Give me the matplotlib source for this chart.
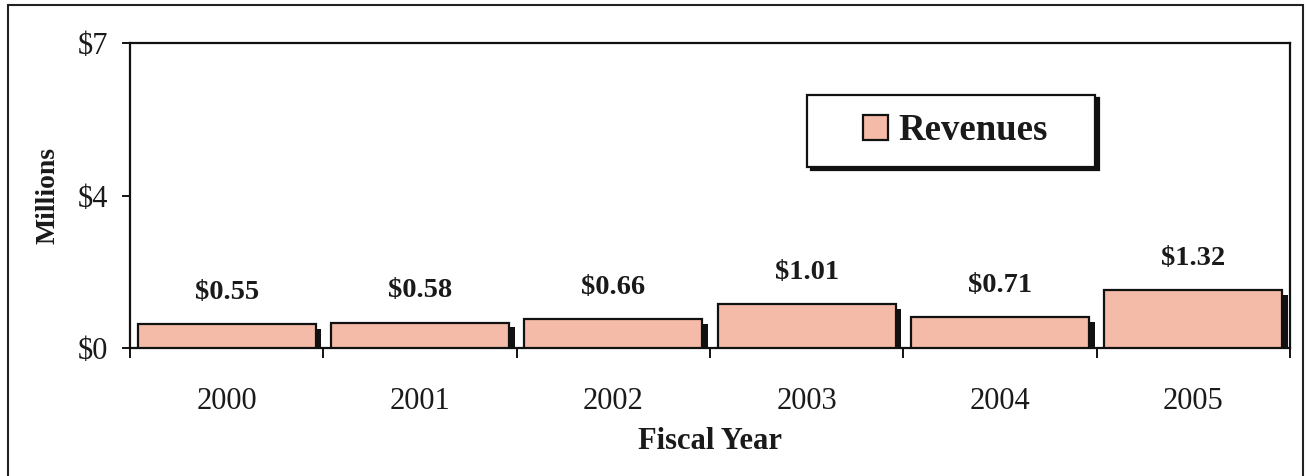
import matplotlib
matplotlib.use('Agg')
import matplotlib.pyplot as plt
from matplotlib.patches import Rectangle
from matplotlib.container import BarContainer
from matplotlib.legend_handler import HandlerPatch, update_from_first_child

plt.rcParams['font.family'] = ['Liberation Serif', 'DejaVu Serif']

# Revenue data (millions of dollars)
years = ['2000', '2001', '2002', '2003', '2004', '2005']
revenues = [0.55, 0.58, 0.66, 1.01, 0.71, 1.32]
value_labels = ['$0.55', '$0.58', '$0.66', '$1.01', '$0.71', '$1.32']
y_ticks = [0, 3.5, 7]
y_tick_labels = ['$0', '$4', '$7']

BAR_COLOR = '#F5BBA9'
BAR_WIDTH = 0.92
INK = '#1a1a1a'


def square_at_right(legend, orig_handle, xdescent, ydescent, width, height, fontsize):
    # legend key: small square pushed to the right end of the handle area
    side = height * 1.05
    return Rectangle((width - xdescent - side, -ydescent - (side - height) / 2),
                     side, side)


fig = plt.figure(figsize=(13.07, 4.76), dpi=100)
ax = fig.add_axes([0.0995, 0.269, 0.8875, 0.6405])

x = list(range(len(years)))

# dark drop shadow behind each bar
ax.bar([i + 0.03 for i in x], [v - 0.11 for v in revenues], width=BAR_WIDTH,
       color='#111111', edgecolor='none', zorder=2)
ax.bar(x, revenues, width=BAR_WIDTH, color=BAR_COLOR, edgecolor='#111111',
       linewidth=1.6, zorder=3, label='Revenues')

for i, (v, lbl) in enumerate(zip(revenues, value_labels)):
    ax.annotate(lbl, xy=(i, v), xytext=(0, 14), textcoords='offset points',
                ha='center', va='bottom', fontsize=20.5, fontweight='bold',
                color=INK)

ax.set_xlim(-0.5, len(years) - 0.5)
ax.set_ylim(0, 7)

# category ticks sit on the boundaries between bars
ax.set_xticks([i - 0.5 for i in range(len(years) + 1)])
ax.set_xticklabels([])
ax.set_xticks(x, minor=True)
ax.set_xticklabels(years, minor=True, fontsize=22, color=INK)
ax.tick_params(axis='x', which='major', direction='out', length=7, width=1.3)
ax.tick_params(axis='x', which='minor', length=0, pad=28)

ax.set_yticks(y_ticks)
ax.set_yticklabels(y_tick_labels, fontsize=22, color=INK)
ax.tick_params(axis='y', direction='out', length=6, width=1.3, pad=10)

for side in ['left', 'right', 'top', 'bottom']:
    ax.spines[side].set_linewidth(1.6)
    ax.spines[side].set_color('#111111')

ax.set_xlabel('Fiscal Year', fontsize=22, fontweight='bold', color=INK,
              labelpad=8)
ax.set_ylabel('Millions', fontsize=20, fontweight='bold', color=INK,
              labelpad=12)

key_handler = HandlerPatch(patch_func=square_at_right,
                           update_func=update_from_first_child)
leg = ax.legend(loc='upper left', bbox_to_anchor=(0.584, 0.0, 0.248, 0.83),
                mode='expand', frameon=True, fancybox=False, edgecolor='#111111',
                handlelength=1.68, handleheight=0.62, handletextpad=0.3,
                borderpad=0.5, borderaxespad=0,
                prop={'weight': 'bold', 'size': 26.5},
                handler_map={BarContainer: key_handler},
                shadow={'color': '#111111', 'alpha': 1.0, 'ox': 2.5, 'oy': -2.5})
leg.get_frame().set_linewidth(1.6)
for txt in leg.get_texts():
    txt.set_color(INK)

# outer border around the whole chart
fig.patches.append(Rectangle((0.006, -0.02), 0.991, 1.01, transform=fig.transFigure,
                             fill=False, edgecolor='#222222', linewidth=1.5))

fig.savefig('out.png', dpi=100)
